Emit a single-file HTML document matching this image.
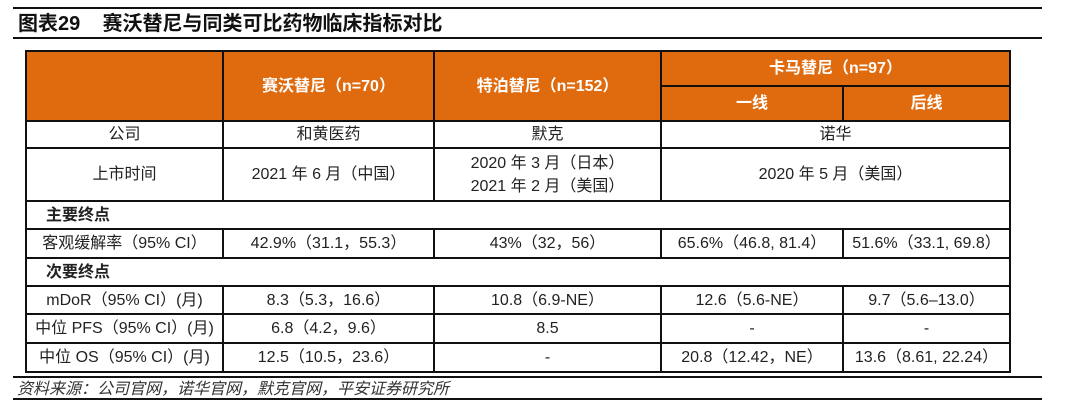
<!DOCTYPE html>
<html><head><meta charset="utf-8"><style>
body{margin:0;width:1080px;height:418px;background:#fff;position:relative;overflow:hidden;font-family:"Liberation Sans","Noto Sans CJK SC",sans-serif;color:#222}
.l{position:absolute;background:#111}
.t{position:absolute;display:flex;align-items:center;justify-content:center;font-size:16px;text-align:center;line-height:23px;white-space:nowrap}
.o{position:absolute;background:#E06B0E}
.w{color:#fff;font-weight:bold}
.b{font-weight:bold;justify-content:flex-start;padding-left:19px}
</style></head><body>
<div class="l" style="left:13px;top:7px;width:1029px;height:2px"></div>
<div class="t" style="left:18px;top:11px;height:27px;font-size:20px;font-weight:bold;color:#111">图表29&nbsp;&nbsp;&nbsp;&nbsp;赛沃替尼与同类可比药物临床指标对比</div>
<div class="l" style="left:13px;top:37px;width:1029px;height:2px"></div>

<div class="o" style="left:25px;top:50px;width:985px;height:71px"></div>

<div class="l" style="left:25px;top:50px;width:986px;height:2px"></div>
<div class="l" style="left:661px;top:85px;width:349px;height:2px"></div>
<div class="l" style="left:25px;top:120px;width:986px;height:2px"></div>
<div class="l" style="left:25px;top:147px;width:986px;height:2px"></div>
<div class="l" style="left:25px;top:200px;width:986px;height:2px"></div>
<div class="l" style="left:25px;top:228px;width:986px;height:2px"></div>
<div class="l" style="left:25px;top:257px;width:986px;height:2px"></div>
<div class="l" style="left:25px;top:285px;width:986px;height:2px"></div>
<div class="l" style="left:25px;top:313px;width:986px;height:2px"></div>
<div class="l" style="left:25px;top:342px;width:986px;height:2px"></div>
<div class="l" style="left:25px;top:371px;width:986px;height:2px"></div>
<div class="l" style="left:25px;top:50px;width:2px;height:323px"></div>
<div class="l" style="left:1009px;top:50px;width:2px;height:323px"></div>
<div class="l" style="left:222px;top:50px;width:2px;height:151px"></div>
<div class="l" style="left:433px;top:50px;width:2px;height:151px"></div>
<div class="l" style="left:660px;top:50px;width:2px;height:151px"></div>
<div class="l" style="left:842px;top:86px;width:2px;height:36px"></div>
<div class="l" style="left:222px;top:229px;width:2px;height:29px"></div>
<div class="l" style="left:433px;top:229px;width:2px;height:29px"></div>
<div class="l" style="left:660px;top:229px;width:2px;height:29px"></div>
<div class="l" style="left:842px;top:229px;width:2px;height:29px"></div>
<div class="l" style="left:222px;top:286px;width:2px;height:87px"></div>
<div class="l" style="left:433px;top:286px;width:2px;height:87px"></div>
<div class="l" style="left:660px;top:286px;width:2px;height:87px"></div>
<div class="l" style="left:842px;top:286px;width:2px;height:87px"></div>

<div class="t w" style="left:224px;top:52px;width:209px;height:68px">赛沃替尼（n=70）</div>
<div class="t w" style="left:435px;top:52px;width:225px;height:68px">特泊替尼（n=152）</div>
<div class="t w" style="left:662px;top:52px;width:347px;height:33px">卡马替尼（n=97）</div>
<div class="t w" style="left:662px;top:87px;width:180px;height:33px">一线</div>
<div class="t w" style="left:844px;top:87px;width:165px;height:33px">后线</div>

<div class="t" style="left:27px;top:122px;width:195px;height:25px">公司</div>
<div class="t" style="left:224px;top:122px;width:209px;height:25px">和黄医药</div>
<div class="t" style="left:435px;top:122px;width:225px;height:25px">默克</div>
<div class="t" style="left:662px;top:122px;width:347px;height:25px">诺华</div>

<div class="t" style="left:27px;top:149px;width:195px;height:51px">上市时间</div>
<div class="t" style="left:224px;top:149px;width:209px;height:51px">2021 年 6 月（中国）</div>
<div class="t" style="left:435px;top:149px;width:225px;height:51px">2020 年 3 月（日本）<br>2021 年 2 月（美国）</div>
<div class="t" style="left:662px;top:149px;width:347px;height:51px">2020 年 5 月（美国）</div>

<div class="t b" style="left:27px;top:202px;height:26px">主要终点</div>

<div class="t" style="left:27px;top:230px;width:195px;height:27px">客观缓解率（95% CI）</div>
<div class="t" style="left:224px;top:230px;width:209px;height:27px">42.9%（31.1，55.3）</div>
<div class="t" style="left:435px;top:230px;width:225px;height:27px">43%（32，56）</div>
<div class="t" style="left:662px;top:230px;width:180px;height:27px">65.6%（46.8, 81.4）</div>
<div class="t" style="left:844px;top:230px;width:165px;height:27px">51.6%（33.1, 69.8）</div>

<div class="t b" style="left:27px;top:259px;height:26px">次要终点</div>

<div class="t" style="left:27px;top:287px;width:195px;height:26px">mDoR（95% CI）(月)</div>
<div class="t" style="left:224px;top:287px;width:209px;height:26px">8.3（5.3，16.6）</div>
<div class="t" style="left:435px;top:287px;width:225px;height:26px">10.8（6.9-NE）</div>
<div class="t" style="left:662px;top:287px;width:180px;height:26px">12.6（5.6-NE）</div>
<div class="t" style="left:844px;top:287px;width:165px;height:26px">9.7（5.6–13.0）</div>

<div class="t" style="left:27px;top:315px;width:195px;height:27px">中位 PFS（95% CI）(月)</div>
<div class="t" style="left:224px;top:315px;width:209px;height:27px">6.8（4.2，9.6）</div>
<div class="t" style="left:435px;top:315px;width:225px;height:27px">8.5</div>
<div class="t" style="left:662px;top:315px;width:180px;height:27px">-</div>
<div class="t" style="left:844px;top:315px;width:165px;height:27px">-</div>

<div class="t" style="left:27px;top:344px;width:195px;height:27px">中位 OS（95% CI）(月)</div>
<div class="t" style="left:224px;top:344px;width:209px;height:27px">12.5（10.5，23.6）</div>
<div class="t" style="left:435px;top:344px;width:225px;height:27px">-</div>
<div class="t" style="left:662px;top:344px;width:180px;height:27px">20.8（12.42，NE）</div>
<div class="t" style="left:844px;top:344px;width:165px;height:27px">13.6（8.61, 22.24）</div>

<div class="l" style="left:13px;top:376px;width:1029px;height:2px"></div>
<div class="t" style="left:17px;top:378px;height:22px;font-size:16px;font-style:italic;color:#333">资料来源：公司官网，诺华官网，默克官网，平安证券研究所</div>
<div class="l" style="left:13px;top:398px;width:1029px;height:2px"></div>
</body></html>
